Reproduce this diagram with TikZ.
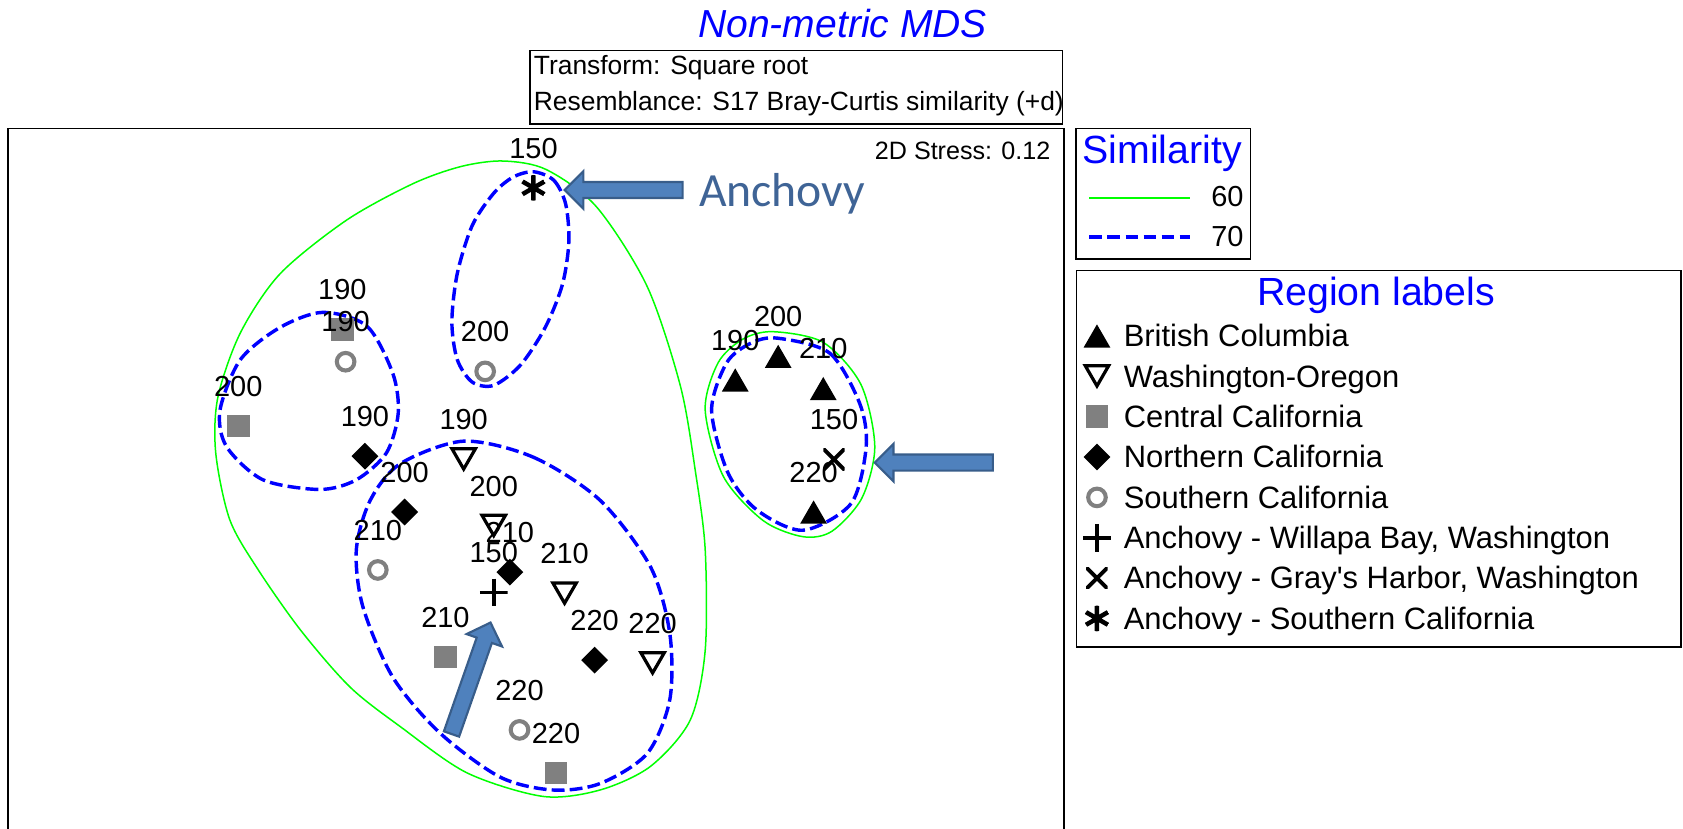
\documentclass[tikz,border=0pt]{standalone}
\usepackage{fontspec}
\setmainfont{Liberation Sans}
\newfontfamily\calibrifont{Carlito}
\usepackage{xcolor}
\usetikzlibrary{shapes.geometric,shapes.arrows,calc}

\definecolor{hullgreen}{RGB}{0,255,0}
\definecolor{hullblue}{RGB}{0,0,255}
\definecolor{markgray}{RGB}{128,128,128}
\definecolor{arrowfill}{HTML}{4F81BD}
\definecolor{arrowline}{HTML}{385D8A}
\definecolor{anchovytext}{RGB}{63,100,150}

\begin{document}
\begin{tikzpicture}[x=0.5pt,y=-0.5pt]
        \tikzset{basemark/.style={inner sep=0pt,outer sep=0pt},
            tup/.style={basemark,regular polygon,regular polygon sides=3,fill=black,
                minimum size=14.4pt,yshift=-1.8pt},
            tdn/.style={basemark,regular polygon,regular polygon sides=3,shape border rotate=180,
                draw=black,line width=1.5pt,minimum size=12.6pt,yshift=1.8pt},
            sqr/.style={basemark,rectangle,fill=markgray,minimum size=10.5pt},
            dia/.style={basemark,diamond,fill=black,minimum size=12.5pt},
            ring/.style={basemark,circle,draw=markgray,line width=1.9pt,minimum size=8.2pt},
            plusmk/.style={basemark,rectangle,minimum size=13pt,
                path picture={\draw[line width=1.8pt]
                    (path picture bounding box.north) -- (path picture bounding box.south)
                    (path picture bounding box.west) -- (path picture bounding box.east);}},
            xmk/.style={basemark,rectangle,minimum size=10pt,
                path picture={\draw[line width=1.8pt]
                    (path picture bounding box.north west) -- (path picture bounding box.south east)
                    (path picture bounding box.north east) -- (path picture bounding box.south west);}},
            astmk/.style={basemark,circle,minimum size=12pt,
                path picture={\draw[line width=2.1pt]
                    ($(path picture bounding box.center)+(90:6pt)$) -- ($(path picture bounding box.center)+(270:6pt)$)
                    ($(path picture bounding box.center)+(30:6pt)$) -- ($(path picture bounding box.center)+(210:6pt)$)
                    ($(path picture bounding box.center)+(150:6pt)$) -- ($(path picture bounding box.center)+(330:6pt)$);}},
            lbl/.style={font=\fontsize{13.5}{16}\selectfont,inner sep=0pt},
            frame/.style={draw=black,line width=0.8pt},
            hull60/.style={draw=hullgreen,line width=0.7pt},
            hull70/.style={draw=hullblue,line width=1.6pt,dash pattern=on 6pt off 2.4pt},
            boxtext/.style={font=\fontsize{12.3}{15}\selectfont,anchor=base west,inner sep=0pt},
            legtitle/.style={font=\fontsize{18.3}{22}\selectfont,text=hullblue,inner sep=0pt},
            legentry/.style={font=\fontsize{14.4}{17}\selectfont,anchor=base west,inner sep=0pt},
            blockarrow/.style={single arrow,draw=arrowline,fill=arrowfill,line width=1pt,
                inner xsep=0pt,inner ysep=3.25pt,single arrow head extend=5pt,
                single arrow head indent=0pt,minimum height=55pt,outer sep=0pt,anchor=tip}}
        \useasboundingbox (0,0) rectangle (1568,772);

        \node[font=\fontsize{18.2}{22}\selectfont\itshape,text=hullblue,anchor=base,inner sep=0pt]
            (title) at (785,35) {Non-metric MDS};
        \draw[frame] (494,47) rectangle (990,115.5);
        \node[boxtext] (transform) at (497,69) {Transform: Square root};
        \node[boxtext] (resemblance) at (497,102.5) {Resemblance: S17 Bray-Curtis similarity (+d)};

        \draw[frame] (7.7,772) -- (7.7,119.6) -- (991.5,119.6) -- (991.5,772);
        \node[font=\fontsize{11.7}{14}\selectfont,anchor=base east,inner sep=0pt]
            (stress) at (979,149) {2D Stress: 0.12};

        \draw[hull60] plot[smooth cycle] coordinates {(469,150) (509,158) (556,193) (603,267)
            (634,360) (648,440) (657,512) (657,606) (643,671) (606,714) (559,736) (506,742)
            (435,720) (373,677) (326,640) (280,587) (240,530) (214,484) (201,422) (203,370)
            (224,310) (261,255) (323,205) (385,171) (430,155)};
        \draw[hull70] plot[smooth cycle] coordinates {(497,160) (516,168) (527,190) (530,225)
            (524,265) (508,305) (485,340) (460,359) (440,356) (426,335) (421,300) (426,255)
            (440,210) (460,180) (478,165)};
        \draw[hull70] plot[smooth cycle] coordinates {(301,291) (342,304) (366,348) (371,385)
            (360,422) (332,447) (298,456) (245,447) (211,416) (205,382) (224,335) (261,305)};
        \draw[hull70] plot[smooth cycle] coordinates {(432,411) (497,426) (559,466) (606,528)
            (624,590) (624,652) (603,702) (559,730) (515,736) (466,724) (410,683) (366,631)
            (338,565) (332,512) (345,466) (373,432)};
        \draw[hull60] plot[smooth cycle] coordinates {(720,309) (767,319) (802,358) (815,416)
            (803,464) (775,495) (748,500) (711,485) (674,444) (657,382) (669,338) (692,316)};
        \draw[hull70] plot[smooth cycle] coordinates {(724,315) (773,329) (801,376) (807,416)
            (793,469) (748,494) (705,475) (678,440) (663,382) (677,338) (699,320)};

        \def\mdspoints{sqr/319/307/190, ring/322/337/190, sqr/222/397/200, dia/340/425/190,
            astmk/497/175/150, ring/452/346/200, tdn/432/428/190, dia/377/477/200,
            ring/352/531/210, tdn/460/490/200, dia/475/533/210, plusmk/460/552/150,
            tdn/526/553/210, dia/554/615/220, tdn/608/618/220, sqr/415/612/210,
            ring/484/680/220, sqr/518/720/220, tup/685/354/190, tup/725/332/200,
            tup/767/362/210, xmk/777/428/150, tup/758/477/220}
        \foreach \mk/\px/\py/\lab [count=\i] in \mdspoints
            \node[\mk] (p\i) at (\px,\py) {};
        \foreach \mk/\px/\py/\lab [count=\i] in \mdspoints
            \node[lbl] (l\i) at (\px,\py-37) {\lab};

        \node[blockarrow,rotate=180] (arrowtop) at ($(p5)+(29,2)$) {};
        \node[blockarrow,rotate=180] (arrowright) at ($(p22)+(38,3)$) {};
        \node[blockarrow,rotate=70.7] (arrowup) at ($(p12)+(-3,28)$) {};
        \node[font=\calibrifont\fontsize{22.2}{26}\selectfont,text=anchovytext,anchor=base west,
            inner sep=0pt] (anchovy) at (651,192) {Anchovy};

        \draw[frame] (1002.5,119.6) rectangle (1165,241);
        \node[legtitle,anchor=base west] (simtitle) at (1008,152) {Similarity};
        \coordinate (g0) at (1015,184.5);
        \coordinate (g1) at (1109,184.5);
        \coordinate (b0) at (1015,221);
        \coordinate (b1) at (1109,221);
        \draw[hull60] (g0) -- (g1);
        \draw[hull70] (b0) -- (b1);
        \node[font=\fontsize{13.5}{16}\selectfont,anchor=base east,inner sep=0pt] (n60) at (1159,192) {60};
        \node[font=\fontsize{13.5}{16}\selectfont,anchor=base east,inner sep=0pt] (n70) at (1159,230) {70};

        \draw[frame] (1003,252) rectangle (1566,603);
        \node[legtitle,anchor=base] (regtitle) at (1282,285) {Region labels};
        \foreach \mk/\txt [count=\j] in {tup/British Columbia, tdn/Washington-Oregon,
            sqr/Central California, dia/Northern California, ring/Southern California,
            plusmk/{Anchovy - Willapa Bay, Washington},
            xmk/{Anchovy - Gray\textquotesingle s Harbor, Washington},
            astmk/Anchovy - Southern California}
        {
            \node[\mk] (k\j) at (1022,313+37.6*\j-37.6) {};
            \node[legentry] (e\j) at (1046.6,323+37.6*\j-37.6) {\txt};
        }
\end{tikzpicture}
\end{document}
